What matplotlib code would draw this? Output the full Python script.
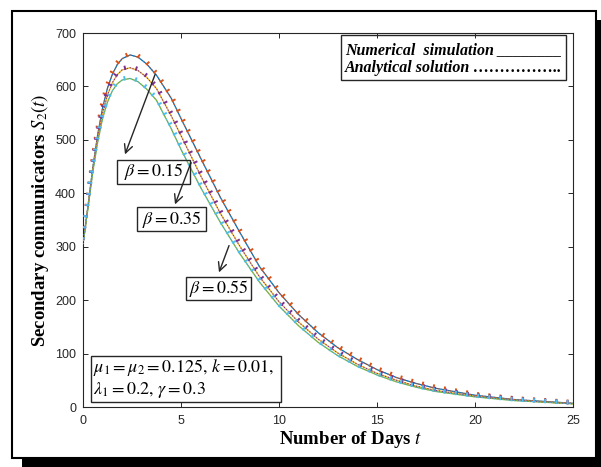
import matplotlib
matplotlib.use("Agg")
import matplotlib.pyplot as plt
import matplotlib.patheffects as pe
from matplotlib.patches import Rectangle

plt.rcParams['mathtext.fontset'] = 'stix'
plt.rcParams['font.family'] = ['Liberation Sans', 'DejaVu Sans']

# ---- data ----
t = [0, 0.25, 0.5, 0.75, 1, 1.25, 1.5, 1.75, 2, 2.4, 2.8, 3.25, 3.75, 4.5, 5,
     6, 7, 8, 9, 10, 11, 12, 13, 14, 15, 16, 17, 18, 20, 22, 25]
s2_beta015 = [305, 375, 448, 510, 560, 597, 623, 641, 652, 659, 655, 642, 621, 578, 540,
              466, 393, 327, 263, 214, 173, 139, 111, 89, 70, 55, 44, 35, 22, 14, 7]
s2_beta035 = [305, 373, 444, 503, 550, 584, 607, 622, 631, 635, 630, 617, 596, 545, 508,
              433, 363, 301, 244, 197, 159, 127, 101, 80, 63, 50, 39, 31, 20, 13, 6]
s2_beta055 = [305, 371, 440, 496, 540, 571, 592, 605, 612, 615, 609, 595, 574, 521, 482,
              411, 346, 287, 234, 189, 152, 121, 96, 76, 60, 47, 37, 29, 19, 12, 6]
beta_labels = [r"$\beta = 0.15$", r"$\beta = 0.35$", r"$\beta = 0.55$"]
xticks = [0, 5, 10, 15, 20, 25]
yticks = [0, 100, 200, 300, 400, 500, 600, 700]

W, H = 601, 467
fig = plt.figure(figsize=(W / 100, H / 100), dpi=100)
fig.patch.set_facecolor('white')

def fx(x):
    return x / W

def fy(y):
    return 1 - y / H

# axes placement (pixels of the reference)
L, R, T, B = 83, 573, 33, 407
ax = fig.add_axes([fx(L), fy(B), (R - L) / W, (B - T) / H])

num_colors = ['#0072BD', '#EDB120', '#77AC30']
ana_colors = ['#D95319', '#7E2F8E', '#4DBEEE']
series = [s2_beta015, s2_beta035, s2_beta055]
for s, cn, ca in zip(series, num_colors, ana_colors):
    ax.plot(t, s, '-', color=cn, lw=0.9, zorder=2)
    ax.plot(t, s, ':', color=ca, lw=0.8, zorder=3)
    # small marks along the analytical curve
    ax.plot(t, s, '-', color=ca, lw=1.4, zorder=3,
            path_effects=[pe.TickedStroke(spacing=8, angle=90, length=0.22)])

ax.set_xlim(0, 25)
ax.set_ylim(0, 700)
ax.set_xticks(xticks)
ax.set_yticks(yticks)
ax.tick_params(direction='in', top=True, right=True, length=3.5, width=0.7,
               colors='#262626', labelsize=9, pad=5)
ax.tick_params(axis='x', pad=6)
for sp in ax.spines.values():
    sp.set_color('#262626')
    sp.set_linewidth(0.8)

ax.set_xlabel(r"Number of Days $t$", fontsize=13.5, fontweight='bold',
              family='Liberation Serif', color='black')
ax.xaxis.set_label_coords((351 - L) / (R - L), -0.058)
ax.xaxis.label.set_va('top')
ax.set_ylabel(r"Secondary communicators $S_2(t)$", fontsize=13.5, fontweight='bold',
              family='Liberation Serif', color='black')
ax.yaxis.set_label_coords(-0.066, 0.5)

# ---- annotations (pixel positions of the reference) ----
def pix2data(x, y):
    return (x - L) / (R - L) * 25, (B - y) / (B - T) * 700

def add_box(x0, y0, x1, y1, lw=1.0):
    fig.add_artist(Rectangle((fx(x0), fy(y1)), (x1 - x0) / W, (y1 - y0) / H,
                             transform=fig.transFigure, fill=False,
                             edgecolor='#262626', lw=lw, zorder=5))

arrows = [((156, 72), (124, 157)), ((192, 160), (174, 207)), ((230, 243), (218, 275))]
boxes = [(117, 160, 190, 184), (137, 207, 206, 231), (186, 277, 251, 300)]
for (p0, p1), bx, lab in zip(arrows, boxes, beta_labels):
    ax.annotate('', xy=pix2data(*p1), xytext=pix2data(*p0),
                arrowprops=dict(arrowstyle='->,head_length=0.6,head_width=0.3',
                                color='#262626', lw=1.0), zorder=6)
    add_box(*bx)
    fig.text(fx((bx[0] + bx[2]) / 2), fy((bx[1] + bx[3]) / 2), lab,
             ha='center', va='center', fontsize=13, color='black')

# parameter box
add_box(91, 356, 281, 402)
fig.text(fx(93), fy(367), r"$\mu_1=\mu_2=0.125,\,k=0.01,$", ha='left', va='center',
         fontsize=13, color='black')
fig.text(fx(93), fy(390), r"$\lambda_1=0.2,\,\gamma=0.3$", ha='left', va='center',
         fontsize=13, color='black')

# legend-like box
add_box(341, 35, 566, 80)
fig.text(fx(345), fy(50), "Numerical  simulation ________", ha='left', va='center',
         fontsize=11.5, family='Liberation Serif', fontweight='bold', style='italic')
fig.text(fx(345), fy(68), "Analytical solution \u2026\u2026\u2026\u2026\u2026..", ha='left',
         va='center', fontsize=11.5, family='Liberation Serif', fontweight='bold',
         style='italic')

# outer frame with drop shadow
fig.add_artist(Rectangle((fx(22), fy(467)), (601 - 22) / W, 9 / H,
                         transform=fig.transFigure, facecolor='black', edgecolor='none'))
fig.add_artist(Rectangle((fx(596), fy(467)), 5 / W, (467 - 20) / H,
                         transform=fig.transFigure, facecolor='black', edgecolor='none'))
fig.add_artist(Rectangle((fx(12), fy(458)), (596 - 12) / W, (458 - 11) / H,
                         transform=fig.transFigure, fill=False, edgecolor='black', lw=1.5))

fig.savefig('out.png', dpi=100)
